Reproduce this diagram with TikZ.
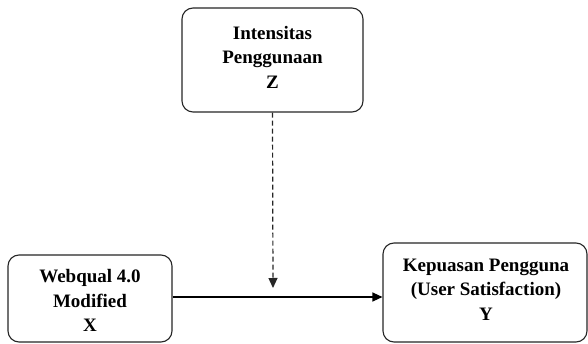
\documentclass[tikz,border=0pt]{standalone}
\usepackage{fontspec}
\setmainfont{Liberation Serif}
\usetikzlibrary{arrows.meta}
\tikzset{
  varbox/.style={draw=black!85, line width=1.1pt, rounded corners=11pt, fill=white,
    align=center, inner sep=0pt, font=\bfseries\fontsize{19}{24.5}\selectfont},
  mainarrow/.style={line width=1.3pt, -{Triangle[width=9pt,length=10pt]}},
  modarrow/.style={line width=1.2pt, draw=black!85, dash pattern=on 5pt off 3pt, -{Triangle[width=9pt,length=10pt]}}
}
\begin{document}
\begin{tikzpicture}[x=1pt,y=1pt]
\useasboundingbox (0,0) rectangle (588,-344);
\node[varbox, minimum width=181pt, minimum height=104pt] (Z) at (272.5,-60) {};
\node[align=center, font=\bfseries\fontsize{19}{24.5}\selectfont] (Zt) at (272.5,-57) {Intensitas\\Penggunaan\\Z};
\node[varbox, minimum width=164pt, minimum height=87pt] (X) at (90,-298.5) {};
\node[align=center, font=\bfseries\fontsize{19}{24.5}\selectfont] (Xt) at (90,-300.5) {Webqual 4.0\\Modified\\X};
\node[varbox, minimum width=204pt, minimum height=99pt] (Y) at (485,-292.5) {};
\node[align=center, font=\bfseries\fontsize{19}{24.5}\selectfont] (Yt) at (486,-289.5) {Kepuasan Pengguna\\(User Satisfaction)\\Y};
\coordinate (M) at (273,-288);
\draw[mainarrow] (X.east |- 0,-297) -- (Y.west |- 0,-297);
\draw[modarrow] (Z.south) -- (M);
\end{tikzpicture}
\end{document}
